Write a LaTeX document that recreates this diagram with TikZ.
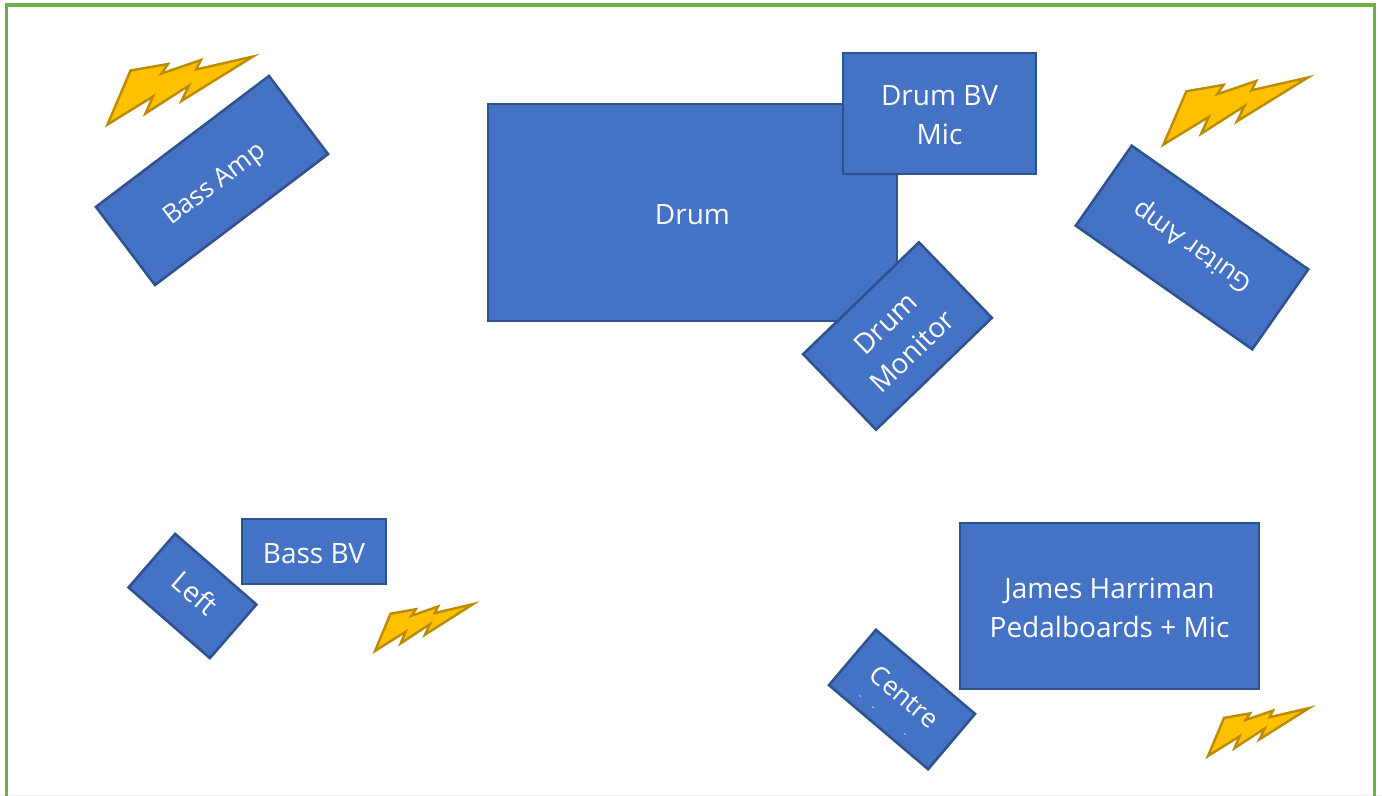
\documentclass[tikz,border=0pt]{standalone}
\usepackage{fontspec}
\setmainfont{Open Sans}
\definecolor{boxfill}{HTML}{4472C4}
\definecolor{boxline}{HTML}{2F528F}
\definecolor{boltfill}{HTML}{FFC000}
\definecolor{boltline}{HTML}{BC8C00}
\definecolor{frameline}{HTML}{70AD47}
\tikzset{
  stagebox/.style={draw=boxline,fill=boxfill,line width=1.9pt,text=white,inner sep=0pt,
    font=\fontsize{21pt}{29.25pt}\selectfont},
  slimtext/.style={font=\fontsize{19.5pt}{29.25pt}\selectfont},
  bolt/.style={draw=boltline,fill=boltfill,line width=1.8pt,line join=miter,miter limit=10},
}
\newcommand{\boltpath}{(1.5,69.5) -- (24.5,15.5) -- (62,9) -- (55.5,18.5) -- (95,5) -- (90,14.5) -- (147,1.5) -- (75.5,46) -- (83,30.5) -- (39.5,58.5) -- (47,41.5) -- cycle}
\newcommand{\lines}[2][-8.2pt]{\raisebox{#1}[0pt][0pt]{\begin{tabular}{@{}c@{}}#2\end{tabular}}}
\begin{document}
\begin{tikzpicture}[x=0.75pt,y=-0.75pt]
\useasboundingbox (0,0) rectangle (1382,796);
\fill[white] (0,0) rectangle (1382,796);
\fill[black!6] (0,795) rectangle (1382,796);
\begin{scope}
\clip (0,0) rectangle (1382,796);
\draw[frameline,line width=2.4pt] (6.5,5) rectangle (1374.5,810);
\end{scope}

\node[stagebox,minimum width=306.75pt,minimum height=162.75pt] (drum) at (692.5,212.5) {\lines{Drum}};
\node[stagebox,minimum width=144.75pt,minimum height=90.75pt] (drumbv) at (939.5,113.5) {\lines{Drum BV\\Mic}};
\node[stagebox,slimtext,minimum width=162.75pt,minimum height=73.5pt,rotate=37.1] (bassamp) at (212,180.5) {\lines{Bass Amp}};
\node[stagebox,minimum width=120.75pt,minimum height=78.75pt,rotate=44] (monitor) at (897.5,336) {\lines{Drum\\Monitor}};
\node[stagebox,slimtext,minimum width=161.6pt,minimum height=73.2pt,rotate=145] (guitar) at (1192,247.5) {\lines[-5.8pt]{Guitar Amp}};
\node[stagebox,minimum width=80.8pt,minimum height=53.25pt,rotate=-41] (left) at (192.5,596) {\lines[-4.5pt]{Left}};
\node[stagebox,minimum width=108pt,minimum height=48.75pt] (bassbv) at (314,551.5) {\lines{Bass BV}};
\node[stagebox,minimum width=224.25pt,minimum height=124.5pt] (james) at (1109.5,606) {\lines{James Harriman\\Pedalboards + Mic}};
\node[stagebox,slimtext,minimum width=97.5pt,minimum height=54.4pt,rotate=-40.3] (centre) at (902,699.5) {\lines[-3.5pt]{Centre}};

\draw[white,line width=0.4pt] (859,695.5) -- (861,696.5) (872,706.5) -- (874,708) (904,733.5) -- (906,734.5);

\draw[bolt,shift={(106,55)}] \boltpath;
\draw[bolt,shift={(1162,76)},xscale=0.993,yscale=0.986] \boltpath;
\draw[bolt,shift={(374,603)},xscale=0.675,yscale=0.69] \boltpath;
\draw[bolt,shift={(1207,707)},xscale=0.695,yscale=0.704] \boltpath;
\end{tikzpicture}
\end{document}
